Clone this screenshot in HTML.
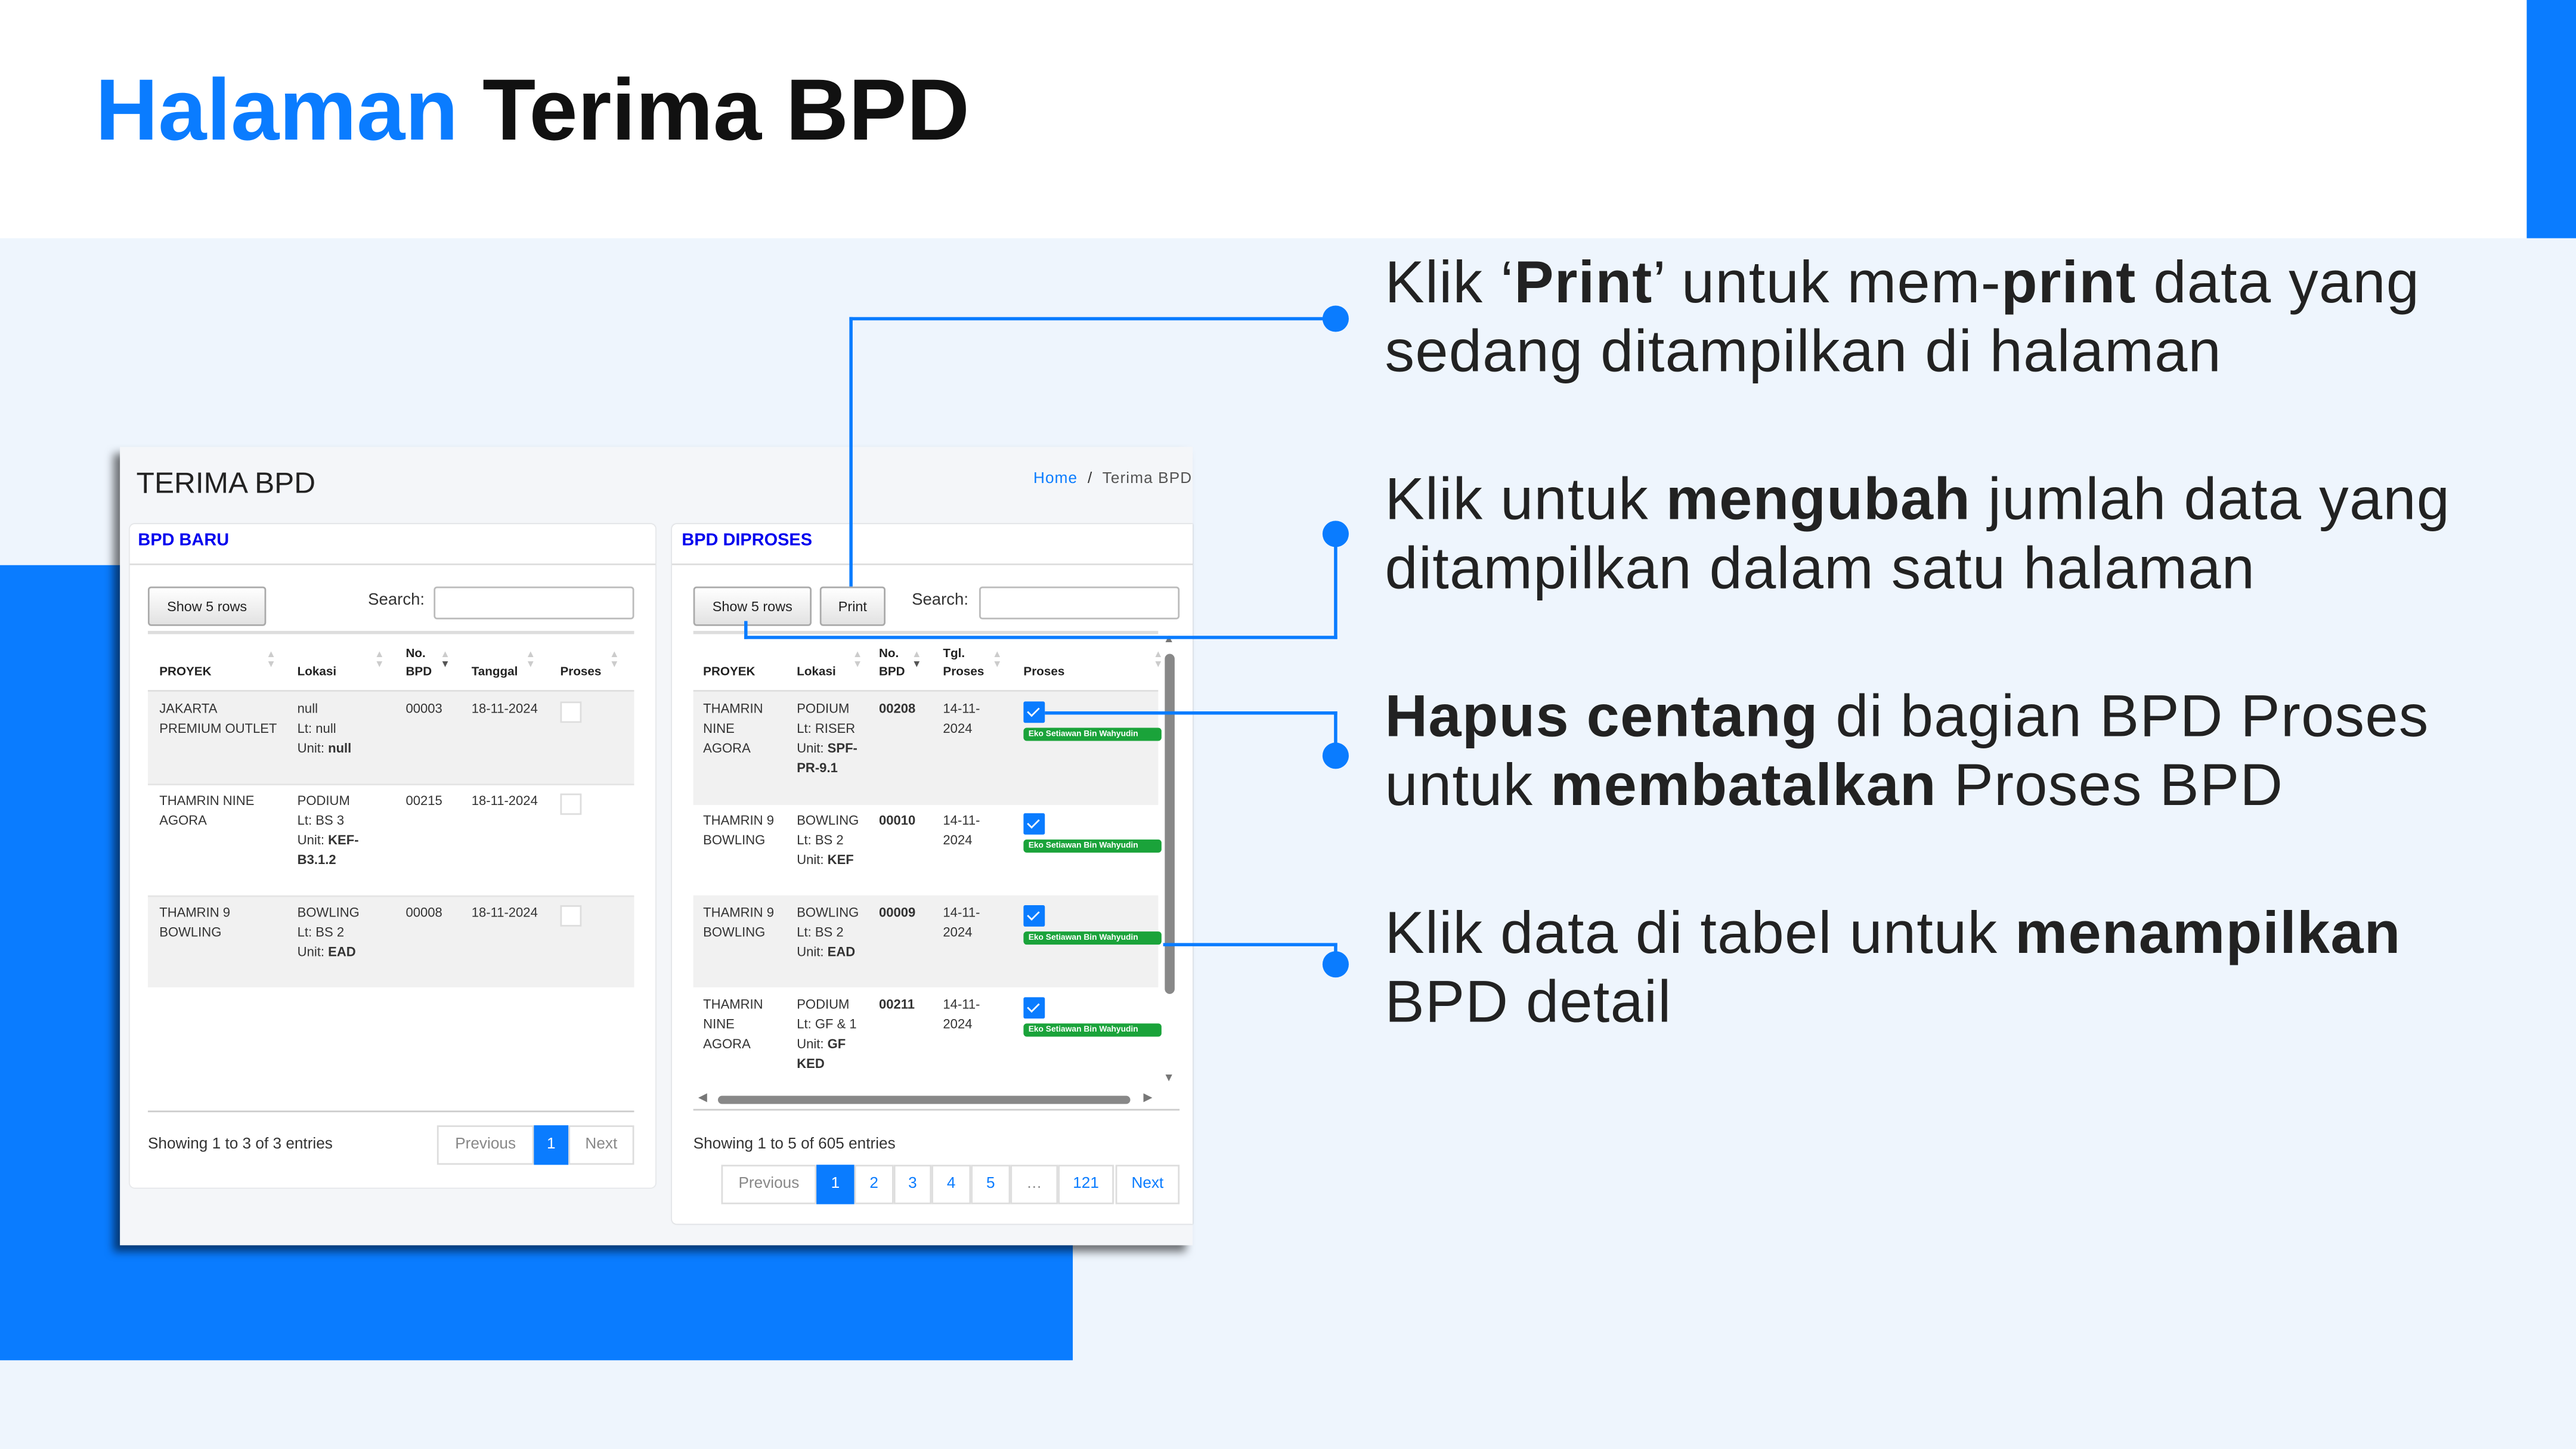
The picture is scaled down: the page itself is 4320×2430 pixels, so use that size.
<!DOCTYPE html>
<html><head><meta charset="utf-8"><style>
html,body{margin:0;padding:0;}
body{width:4320px;height:2430px;overflow:hidden;background:#fff;font-family:"Liberation Sans",sans-serif;}
#s{position:absolute;left:0;top:0;width:1568px;height:882px;transform:scale(2.75510);transform-origin:0 0;}
#s div,#s span.a{position:absolute;}
.t{font-size:8px;color:#333;line-height:12px;white-space:nowrap;}
.h{font-size:7.5px;font-weight:bold;color:#222;line-height:11px;}
.btn{border:1px solid #aaa;background:linear-gradient(#fff,#e2e2e2);border-radius:2px;font-size:8.5px;color:#222;text-align:center;line-height:22px;box-sizing:border-box;}
.inp{border:1px solid #bbb;background:#fff;border-radius:2px;box-sizing:border-box;}
.pg{border:1px solid #ddd;background:#fff;font-size:9.5px;color:#0a7cff;text-align:center;box-sizing:border-box;}
.cb{width:13px;height:13px;background:#0a7cff;border-radius:1px;}
.cb:after{content:"";position:absolute;left:4px;top:2px;width:3px;height:6px;border:solid #fff;border-width:0 1.5px 1.5px 0;transform:rotate(45deg);}
.bg{background:#1aa33a;color:#fff;font-size:5px;font-weight:bold;line-height:8px;border-radius:2px;padding:0 3px;width:78px;}
.ln{background:#0a7cff;}
.dot{width:16px;height:16px;border-radius:50%;background:#0a7cff;}
.rt{font-size:36px;color:#222;line-height:42px;white-space:nowrap;letter-spacing:0.45px;}
.ec{width:13px;height:13px;border:1px solid #ddd;background:#fff;box-sizing:border-box;}
</style></head><body><div id="s">
<div style="left:0;top:145px;width:1568px;height:737px;background:#eef5fd"></div>
<div style="left:1538px;top:0;width:30px;height:145px;background:#0a7cff"></div>
<div style="left:58px;top:36px;font-size:53px;font-weight:bold;line-height:64px;color:#111;white-space:nowrap"><span style="color:#0a7cff">Halaman</span> Terima BPD</div>
<div style="left:0;top:344px;width:653px;height:484px;background:#0a7cff"></div>

<div style="left:73px;top:272px;width:653px;height:486px;background:#f4f6f9;box-shadow:-4px 4px 5px rgba(0,0,0,0.55)"></div>
<div style="left:83px;top:283px;font-size:18px;color:#222;line-height:22px">TERIMA BPD</div>
<div class="t" style="left:629px;top:286px;font-size:9.5px;letter-spacing:0.4px"><span style="color:#0a7cff">Home</span> &nbsp;/&nbsp; <span style="color:#555">Terima BPD</span></div>

<div style="left:79px;top:319px;width:320px;height:404px;background:#fff;border-radius:3px;box-shadow:0 0 1px rgba(0,0,0,0.2)"></div>
<div style="left:79px;top:343px;width:320px;height:1px;background:#ddd"></div>
<div style="left:84px;top:322px;font-size:10.5px;font-weight:bold;color:#0000ee;line-height:14px">BPD BARU</div>
<div class="btn" style="left:90px;top:357px;width:72px;height:24px">Show 5 rows</div>
<div class="t" style="left:224px;top:360px;font-size:10px">Search:</div>
<div class="inp" style="left:264px;top:357px;width:122px;height:20px"></div>
<div style="left:90px;top:384px;width:296px;height:2px;background:#ddd"></div>
<div class="h" style="left:97px;top:403px">PROYEK</div>
<div class="h" style="left:181px;top:403px">Lokasi</div>
<div class="h" style="left:247px;top:392px">No.<br>BPD</div>
<div class="h" style="left:287px;top:403px">Tanggal</div>
<div class="h" style="left:341px;top:403px">Proses</div>
<div class="t" style="left:162px;top:396px;color:#ccc;font-size:6px;line-height:6px">▲<br>▼</div>
<div class="t" style="left:228px;top:396px;color:#ccc;font-size:6px;line-height:6px">▲<br>▼</div>
<div class="t" style="left:268px;top:396px;color:#ccc;font-size:6px;line-height:6px">▲<br><span style="color:#555">▼</span></div>
<div class="t" style="left:320px;top:396px;color:#ccc;font-size:6px;line-height:6px">▲<br>▼</div>
<div class="t" style="left:371px;top:396px;color:#ccc;font-size:6px;line-height:6px">▲<br>▼</div>
<div style="left:90px;top:420px;width:296px;height:1px;background:#ddd"></div>
<div style="left:90px;top:421px;width:296px;height:56px;background:#f1f1f1"></div>
<div style="left:90px;top:545px;width:296px;height:56px;background:#f1f1f1"></div>
<div style="left:90px;top:477px;width:296px;height:1px;background:#e4e4e4"></div>
<div style="left:90px;top:545px;width:296px;height:1px;background:#e4e4e4"></div>
<div class="t" style="left:97px;top:426px">JAKARTA<br>PREMIUM OUTLET</div>
<div class="t" style="left:181px;top:426px">null<br>Lt: null<br>Unit: <b>null</b></div>
<div class="t" style="left:247px;top:426px">00003</div>
<div class="t" style="left:287px;top:426px">18-11-2024</div>
<div class="ec" style="left:341px;top:427px"></div>
<div class="t" style="left:97px;top:482px">THAMRIN NINE<br>AGORA</div>
<div class="t" style="left:181px;top:482px">PODIUM<br>Lt: BS 3<br>Unit: <b>KEF-</b><br><b>B3.1.2</b></div>
<div class="t" style="left:247px;top:482px">00215</div>
<div class="t" style="left:287px;top:482px">18-11-2024</div>
<div class="ec" style="left:341px;top:483px"></div>
<div class="t" style="left:97px;top:550px">THAMRIN 9<br>BOWLING</div>
<div class="t" style="left:181px;top:550px">BOWLING<br>Lt: BS 2<br>Unit: <b>EAD</b></div>
<div class="t" style="left:247px;top:550px">00008</div>
<div class="t" style="left:287px;top:550px">18-11-2024</div>
<div class="ec" style="left:341px;top:551px"></div>
<div style="left:90px;top:676px;width:296px;height:1px;background:#ccc"></div>
<div class="t" style="left:90px;top:691px;font-size:9.5px">Showing 1 to 3 of 3 entries</div>
<div class="pg" style="left:266px;top:685px;width:59px;height:24px;line-height:22px;color:#888">Previous</div>
<div class="pg" style="left:325px;top:685px;width:21px;height:24px;line-height:22px;background:#0a7cff;color:#fff;border-color:#0a7cff">1</div>
<div class="pg" style="left:346px;top:685px;width:40px;height:24px;line-height:22px;color:#888">Next</div>

<div style="left:409px;top:319px;width:317px;height:426px;background:#fff;border-radius:3px 0 0 3px;box-shadow:0 0 1px rgba(0,0,0,0.2)"></div>
<div style="left:409px;top:343px;width:317px;height:1px;background:#ddd"></div>
<div style="left:415px;top:322px;font-size:10.5px;font-weight:bold;color:#0000ee;line-height:14px">BPD DIPROSES</div>
<div class="btn" style="left:422px;top:357px;width:72px;height:24px">Show 5 rows</div>
<div class="btn" style="left:499px;top:357px;width:40px;height:24px">Print</div>
<div class="t" style="left:555px;top:360px;font-size:10px">Search:</div>
<div class="inp" style="left:596px;top:357px;width:122px;height:20px"></div>
<div style="left:422px;top:384px;width:283px;height:2px;background:#ddd"></div>
<div class="h" style="left:428px;top:403px">PROYEK</div>
<div class="h" style="left:485px;top:403px">Lokasi</div>
<div class="h" style="left:535px;top:392px">No.<br>BPD</div>
<div class="h" style="left:574px;top:392px">Tgl.<br>Proses</div>
<div class="h" style="left:623px;top:403px">Proses</div>
<div class="t" style="left:519px;top:396px;color:#ccc;font-size:6px;line-height:6px">▲<br>▼</div>
<div class="t" style="left:555px;top:396px;color:#ccc;font-size:6px;line-height:6px">▲<br><span style="color:#555">▼</span></div>
<div class="t" style="left:604px;top:396px;color:#ccc;font-size:6px;line-height:6px">▲<br>▼</div>
<div class="t" style="left:702px;top:396px;color:#ccc;font-size:6px;line-height:6px">▲<br>▼</div>
<div style="left:422px;top:420px;width:283px;height:1px;background:#ddd"></div>
<div style="left:422px;top:421px;width:283px;height:69px;background:#f1f1f1"></div>
<div style="left:422px;top:545px;width:283px;height:56px;background:#f1f1f1"></div>
<div class="t" style="left:428px;top:426px">THAMRIN<br>NINE<br>AGORA</div>
<div class="t" style="left:485px;top:426px">PODIUM<br>Lt: RISER<br>Unit: <b>SPF-</b><br><b>PR-9.1</b></div>
<div class="t" style="left:535px;top:426px"><b>00208</b></div>
<div class="t" style="left:574px;top:426px">14-11-<br>2024</div>
<div class="cb" style="left:623px;top:427px"></div>
<div class="bg" style="left:623px;top:443px">Eko Setiawan Bin Wahyudin</div>
<div class="t" style="left:428px;top:494px">THAMRIN 9<br>BOWLING</div>
<div class="t" style="left:485px;top:494px">BOWLING<br>Lt: BS 2<br>Unit: <b>KEF</b></div>
<div class="t" style="left:535px;top:494px"><b>00010</b></div>
<div class="t" style="left:574px;top:494px">14-11-<br>2024</div>
<div class="cb" style="left:623px;top:495px"></div>
<div class="bg" style="left:623px;top:511px">Eko Setiawan Bin Wahyudin</div>
<div class="t" style="left:428px;top:550px">THAMRIN 9<br>BOWLING</div>
<div class="t" style="left:485px;top:550px">BOWLING<br>Lt: BS 2<br>Unit: <b>EAD</b></div>
<div class="t" style="left:535px;top:550px"><b>00009</b></div>
<div class="t" style="left:574px;top:550px">14-11-<br>2024</div>
<div class="cb" style="left:623px;top:551px"></div>
<div class="bg" style="left:623px;top:567px">Eko Setiawan Bin Wahyudin</div>
<div class="t" style="left:428px;top:606px">THAMRIN<br>NINE<br>AGORA</div>
<div class="t" style="left:485px;top:606px">PODIUM<br>Lt: GF &amp; 1<br>Unit: <b>GF</b><br><b>KED</b></div>
<div class="t" style="left:535px;top:606px"><b>00211</b></div>
<div class="t" style="left:574px;top:606px">14-11-<br>2024</div>
<div class="cb" style="left:623px;top:607px"></div>
<div class="bg" style="left:623px;top:623px">Eko Setiawan Bin Wahyudin</div>
<div style="left:709px;top:398px;width:6px;height:207px;background:#888;border-radius:3px"></div>
<div class="t" style="left:708px;top:384px;font-size:7px;color:#777">▲</div>
<div class="t" style="left:708px;top:651px;font-size:7px;color:#777">▼</div>
<div style="left:437px;top:667px;width:251px;height:5px;background:#888;border-radius:3px"></div>
<div class="t" style="left:425px;top:663px;font-size:7px;color:#777">◀</div>
<div class="t" style="left:696px;top:663px;font-size:7px;color:#777">▶</div>
<div style="left:422px;top:675px;width:296px;height:1px;background:#ccc"></div>
<div class="t" style="left:422px;top:691px;font-size:9.5px">Showing 1 to 5 of 605 entries</div>
<div class="pg" style="left:439px;top:709px;width:58px;height:24px;line-height:22px;color:#888">Previous</div>
<div class="pg" style="left:497px;top:709px;width:23px;height:24px;line-height:22px;background:#0a7cff;color:#fff;border-color:#0a7cff">1</div>
<div class="pg" style="left:520px;top:709px;width:24px;height:24px;line-height:22px">2</div>
<div class="pg" style="left:544px;top:709px;width:23px;height:24px;line-height:22px">3</div>
<div class="pg" style="left:567px;top:709px;width:24px;height:24px;line-height:22px">4</div>
<div class="pg" style="left:591px;top:709px;width:24px;height:24px;line-height:22px">5</div>
<div class="pg" style="left:615px;top:709px;width:29px;height:24px;line-height:22px;color:#888">…</div>
<div class="pg" style="left:644px;top:709px;width:34px;height:24px;line-height:22px">121</div>
<div class="pg" style="left:679px;top:709px;width:39px;height:24px;line-height:22px">Next</div>

<div class="ln" style="left:517px;top:193px;width:297px;height:2px"></div>
<div class="ln" style="left:517px;top:193px;width:2px;height:164px"></div>
<div class="dot" style="left:805px;top:186px"></div>
<div class="ln" style="left:812px;top:325px;width:2px;height:64px"></div>
<div class="ln" style="left:453px;top:387px;width:361px;height:2px"></div>
<div class="ln" style="left:453px;top:378px;width:2px;height:11px"></div>
<div class="dot" style="left:805px;top:317px"></div>
<div class="ln" style="left:636px;top:433px;width:178px;height:2px"></div>
<div class="ln" style="left:812px;top:433px;width:2px;height:27px"></div>
<div class="dot" style="left:805px;top:452px"></div>
<div class="ln" style="left:708px;top:574px;width:106px;height:2px"></div>
<div class="ln" style="left:812px;top:574px;width:2px;height:13px"></div>
<div class="dot" style="left:805px;top:579px"></div>

<div class="rt" style="left:843px;top:151px">Klik ‘<b>Print</b>’ untuk mem-<b>print</b> data yang<br>sedang ditampilkan di halaman</div>
<div class="rt" style="left:843px;top:283px">Klik untuk <b>mengubah</b> jumlah data yang<br>ditampilkan dalam satu halaman</div>
<div class="rt" style="left:843px;top:415px"><b>Hapus centang</b> di bagian BPD Proses<br>untuk <b>membatalkan</b> Proses BPD</div>
<div class="rt" style="left:843px;top:547px">Klik data di tabel untuk <b>menampilkan</b><br>BPD detail</div>
</div></body></html>
